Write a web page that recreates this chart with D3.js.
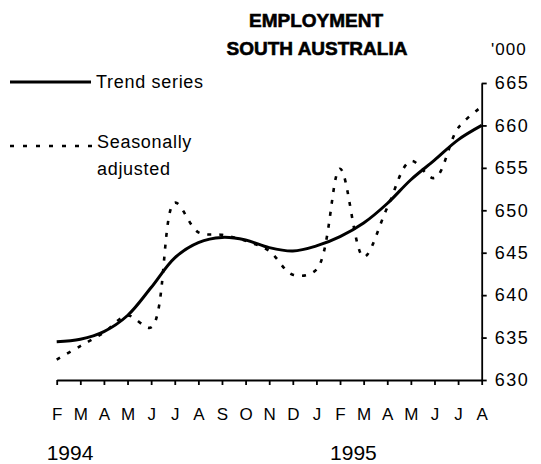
<!DOCTYPE html>
<html>
<head>
<meta charset="utf-8">
<script src="https://cdn.jsdelivr.net/npm/d3@7"></script>
<style>
body { margin: 0; background: #fff; }
text { font-family: "Liberation Sans", Arial, sans-serif; fill: #000; }
</style>
</head>
<body>
<div id="chart"></div>
<script>
// monthly employment, South Australia ('000), Feb 1994 - Aug 1995
var months = ["F","M","A","M","J","J","A","S","O","N","D","J","F","M","A","M","J","J","A"];
var trend = [634.5, 634.8, 635.7, 637.6, 640.9, 644.4, 646.2, 646.8, 646.5, 645.6, 645.2, 645.8,
             646.9, 648.5, 650.8, 653.6, 655.9, 658.3, 660.0];
var seasAdj = [632.4, 634.0, 635.6, 637.6, 636.2, 650.9, 647.4, 647.1, 646.4, 645.2, 642.4, 643.0,
               654.9, 644.5, 650.3, 655.8, 653.8, 659.7, 662.2];
var yTicks = [630, 635, 640, 645, 650, 655, 660, 665];
var years = ["1994", "1995"];
var yearMonth = [0, 12];

var svg = d3.select("#chart").append("svg")
	.attr("width", 541)
	.attr("height", 464);

var x = d3.scaleLinear().domain([0, months.length - 1]).range([56.7, 481.7]);
var y = d3.scaleLinear().domain([630, 665]).range([380, 83]);

// title
svg.append("text").attr("x", 316).attr("y", 27).attr("text-anchor", "middle")
	.style("font-size", "19px").style("font-weight", "bold")
	.attr("stroke", "#000").attr("stroke-width", 0.6)
	.text("EMPLOYMENT");
svg.append("text").attr("x", 317).attr("y", 55).attr("text-anchor", "middle")
	.style("font-size", "19px").style("font-weight", "bold")
	.attr("stroke", "#000").attr("stroke-width", 0.6)
	.text("SOUTH AUSTRALIA");
svg.append("text").attr("x", 491).attr("y", 55)
	.style("font-size", "17px").style("letter-spacing", "1px")
	.text("'000");

// axes
var xAxis = d3.axisBottom(x)
	.tickValues(d3.range(months.length))
	.tickFormat(function(i){ return months[i]; })
	.tickSizeInner(5).tickSizeOuter(0).tickPadding(23);
var gx = svg.append("g").attr("transform", "translate(0," + y(630) + ")").call(xAxis);
gx.selectAll("text").style("font-size", "17px").style("font-family", "'Liberation Sans', Arial, sans-serif");

var yAxis = d3.axisRight(y)
	.tickValues(yTicks)
	.tickSizeInner(5).tickSizeOuter(0).tickPadding(8);
var gy = svg.append("g").attr("transform", "translate(" + x(months.length - 1) + ",0)").call(yAxis);
gy.selectAll("text").style("font-size", "18px").style("letter-spacing", "1.5px")
	.style("font-family", "'Liberation Sans', Arial, sans-serif");

svg.selectAll(".domain, .tick line").attr("stroke", "#000").attr("stroke-width", 1.8);

svg.selectAll("text.year").data(years)
	.enter().append("text")
	.attr("class", "year")
	.attr("x", function(d, i){ return x(yearMonth[i]) - 10; })
	.attr("y", 460)
	.style("font-size", "21px")
	.text(function(d){ return d; });

// series
var line = d3.line()
	.x(function(d, i){ return x(i); })
	.y(function(d){ return y(d); })
	.curve(d3.curveCatmullRom.alpha(0.5));

svg.append("path").datum(seasAdj)
	.attr("d", line)
	.attr("fill", "none")
	.attr("stroke", "#000")
	.attr("stroke-width", 2.6)
	.attr("stroke-dasharray", "4,8");

svg.append("path").datum(trend)
	.attr("d", line)
	.attr("fill", "none")
	.attr("stroke", "#000")
	.attr("stroke-width", 3);

// legend
svg.append("line").attr("x1", 10).attr("x2", 91).attr("y1", 82).attr("y2", 82)
	.attr("stroke", "#000").attr("stroke-width", 3);
svg.append("text").attr("x", 96).attr("y", 88)
	.style("font-size", "18px").style("letter-spacing", "0.7px")
	.text("Trend series");
svg.append("line").attr("x1", 10).attr("x2", 95).attr("y1", 146).attr("y2", 146)
	.attr("stroke", "#000").attr("stroke-width", 2.6).attr("stroke-dasharray", "4,9");
svg.append("text").attr("x", 97).attr("y", 148)
	.style("font-size", "18px").style("letter-spacing", "0.7px")
	.text("Seasonally");
svg.append("text").attr("x", 97).attr("y", 175)
	.style("font-size", "18px").style("letter-spacing", "0.7px")
	.text("adjusted");
</script>
</body>
</html>
